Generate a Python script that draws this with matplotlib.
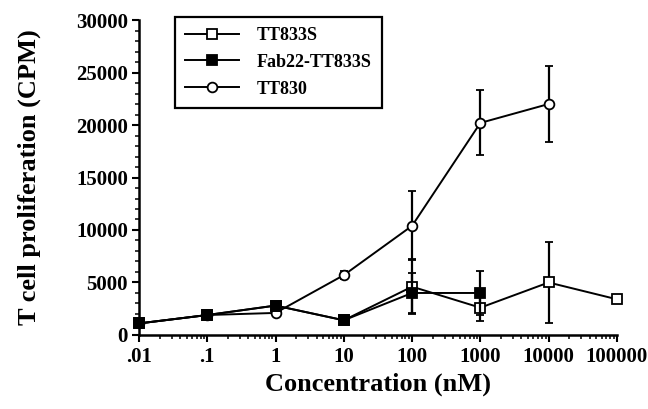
import matplotlib.pyplot as plt
from matplotlib.lines import Line2D
from matplotlib.ticker import FixedLocator, MultipleLocator, LogLocator, NullFormatter

plt.rcParams['font.family'] = ['Liberation Serif', 'DejaVu Serif']
plt.rcParams['font.weight'] = 'bold'

# concentrations (nM)
conc = [0.01, 0.1, 1, 10, 100, 1000, 10000, 100000]
tickLabels = ['.01', '.1', '1', '10', '100', '1000', '10000', '100000']

# TT833S (open squares)
tt833sConc = [0.01, 0.1, 1, 10, 100, 1000, 10000, 100000]
tt833sCpm = [1100, 1900, 2800, 1400, 4600, 2600, 5000, 3400]
tt833sErr = [0, 0, 0, 0, 2600, 1300, 3900, 0]

# Fab22-TT833S (filled squares)
fabConc = [0.01, 0.1, 1, 10, 100, 1000]
fabCpm = [1100, 1900, 2800, 1400, 4000, 4000]
fabErr = [0, 0, 0, 0, 1900, 2100]

# TT830 (open circles)
tt830Conc = [0.01, 0.1, 1, 10, 100, 1000, 10000]
tt830Cpm = [1100, 1900, 2100, 5700, 10400, 20200, 22000]
tt830Err = [0, 0, 0, 400, 3300, 3100, 3600]

fig = plt.figure(figsize=(6.48, 4.09), dpi=100)
ax = fig.add_axes([0.2145, 0.181, 0.7375, 0.77])

style = dict(color='black', linewidth=1.4, markersize=7, markeredgewidth=1.3,
             capsize=3, elinewidth=1.6, capthick=1.6, clip_on=False)
h1 = ax.errorbar(tt833sConc, tt833sCpm, yerr=tt833sErr, marker='s', markerfacecolor='white',
                 zorder=3, **style)
h2 = ax.errorbar(fabConc, fabCpm, yerr=fabErr, marker='s', markerfacecolor='black',
                 zorder=4, **style)
h3 = ax.errorbar(tt830Conc, tt830Cpm, yerr=tt830Err, marker='o', markerfacecolor='white',
                 zorder=2, **style)
for h in (h1, h2, h3):
    for b in h[1] + h[2]:
        b.set_clip_on(False)

ax.set_xscale('log')
ax.set_xlim(0.01, 100000)
ax.set_ylim(0, 30000)
ax.xaxis.set_major_locator(FixedLocator(conc))
ax.set_xticklabels(tickLabels)
ax.xaxis.set_minor_locator(LogLocator(base=10, subs=range(2, 10), numticks=20))
ax.xaxis.set_minor_formatter(NullFormatter())
ax.yaxis.set_major_locator(MultipleLocator(5000))
ax.yaxis.set_minor_locator(MultipleLocator(1000))

ax.spines['top'].set_visible(False)
ax.spines['right'].set_visible(False)
ax.spines['left'].set_linewidth(1.8)
ax.spines['bottom'].set_linewidth(1.8)
ax.tick_params(axis='both', which='major', direction='out', length=5, width=1.5, labelsize=15)
ax.tick_params(axis='x', which='major', pad=4)
ax.tick_params(axis='both', which='minor', direction='out', length=3, width=1.1)
ax.tick_params(axis='y', which='major', pad=3)
for lab in ax.get_xticklabels() + ax.get_yticklabels():
    lab.set_fontweight('bold')

ax.set_xlabel('Concentration (nM)', fontsize=19, fontweight='bold')
ax.set_ylabel('T cell proliferation (CPM)', fontsize=19, fontweight='bold')
ax.xaxis.set_label_coords(0.5, -0.118)
ax.yaxis.set_label_coords(-0.205, 0.5)

legHandles = [
    Line2D([], [], color='black', linewidth=1.4, marker='s', markersize=7,
           markeredgewidth=1.3, markerfacecolor='white'),
    Line2D([], [], color='black', linewidth=1.4, marker='s', markersize=7,
           markeredgewidth=1.3, markerfacecolor='black'),
    Line2D([], [], color='black', linewidth=1.4, marker='o', markersize=7,
           markeredgewidth=1.3, markerfacecolor='white'),
]
leg = ax.legend(legHandles, ['TT833S', 'Fab22-TT833S', 'TT830'], loc='upper left',
                bbox_to_anchor=(0.075, 1.01), borderaxespad=0, fancybox=False,
                edgecolor='black', framealpha=1, handlelength=3.0, handletextpad=1.0,
                borderpad=0.55, labelspacing=0.55, prop={'weight': 'bold', 'size': 13})
leg.get_frame().set_linewidth(1.6)

fig.savefig('out.png', dpi=100)
